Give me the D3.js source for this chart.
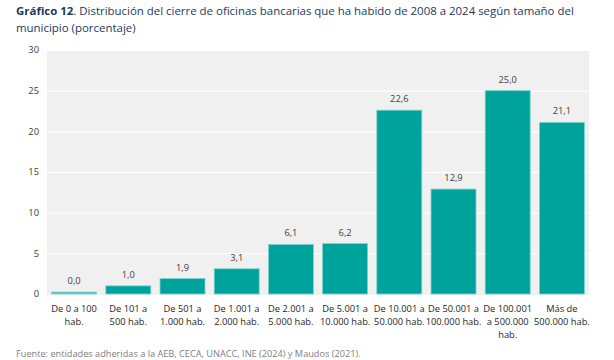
<!DOCTYPE html>
<html><head><meta charset="utf-8">
<script src="https://cdn.jsdelivr.net/npm/d3@7"></script>
<style>body{margin:0;background:#fff;} svg{display:block;}</style>
</head><body>
<svg id="c" width="614" height="360"></svg>
<script>
const categories = [
  ["De 0 a 100","hab."],
  ["De 101 a","500 hab."],
  ["De 501 a","1.000 hab."],
  ["De 1.001 a","2.000 hab."],
  ["De 2.001 a","5.000 hab."],
  ["De 5.001 a","10.000 hab."],
  ["De 10.001 a","50.000 hab."],
  ["De 50.001 a","100.000 hab."],
  ["De 100.001","a 500.000","hab."],
  ["Más de","500.000 hab."]
];
const values = [0.0, 1.0, 1.9, 3.1, 6.1, 6.2, 22.6, 12.9, 25.0, 21.1];
const yTicks = [0, 5, 10, 15, 20, 25, 30];

(function() {
const svg = d3.select("#c");
const font = "'Open Sans', sans-serif";
const mLeft = 47, mRight = 589, mTop = 50, mBottom = 294;

const x = d3.scaleBand().domain(d3.range(values.length)).range([mLeft, mRight]).paddingInner(0.17).paddingOuter(0.085);
const y = d3.scaleLinear().domain([0, 30]).range([mBottom, mTop]);

// Title
const t = svg.append("text").attr("x", 16).attr("y", 15).attr("font-family", font).attr("font-size", 11.45).attr("fill", "#1b3a5e");
t.append("tspan").attr("font-weight", "bold").text("Gráfico 12");
t.append("tspan").text(". Distribución del cierre de oficinas bancarias que ha habido de 2008 a 2024 según tamaño del");
svg.append("text").attr("x", 16).attr("y", 32).attr("font-family", font).attr("font-size", 11.45).attr("fill", "#1b3a5e").text("municipio (porcentaje)");

// plot background
svg.append("rect").attr("x", mLeft).attr("y", mTop).attr("width", mRight - mLeft).attr("height", mBottom - mTop + 1).attr("fill", "#f0f0f0");

// gridlines
svg.append("g").selectAll("line").data(yTicks.filter(d => d > 0)).join("line")
  .attr("x1", mLeft).attr("x2", mRight).attr("y1", d => y(d) + 0.5).attr("y2", d => y(d) + 0.5)
  .attr("stroke", "#ffffff").attr("stroke-width", 1);

// y axis
const yAxis = d3.axisLeft(y).tickValues(yTicks).tickSize(0).tickPadding(0);
const ga = svg.append("g").attr("transform", `translate(${mLeft - 8},0)`).call(yAxis);
ga.select(".domain").remove();
ga.selectAll("text").attr("font-family", font).attr("font-size", 9.3).attr("fill", "#404040");

// bars
const barH = d => Math.max(y(0) - y(d), 2);
svg.append("g").selectAll("rect").data(values).join("rect")
  .attr("x", (d, i) => x(i)).attr("width", x.bandwidth())
  .attr("y", d => y(0) - barH(d)).attr("height", d => barH(d))
  .attr("fill", (d, i) => i === 0 ? "#4cc3c0" : "#00a39c")
  .attr("stroke", "#7fd1cd").attr("stroke-width", 0.8);

// value labels
svg.append("g").selectAll("text").data(values).join("text")
  .attr("x", (d, i) => x(i) + x.bandwidth() / 2)
  .attr("y", d => y(0) - barH(d) - 8)
  .attr("text-anchor", "middle").attr("font-family", font).attr("font-size", 9.3).attr("fill", "#404040")
  .text(d => d3.format(".1f")(d).replace(".", ","));

// x labels
const xl = svg.append("g").selectAll("text").data(categories).join("text")
  .attr("text-anchor", "middle").attr("font-family", font).attr("font-size", 9.3).attr("fill", "#262626");
xl.each(function(lines, i) {
  const el = d3.select(this);
  lines.forEach((ln, j) => {
    el.append("tspan").attr("x", x(i) + x.bandwidth() / 2).attr("y", 312 + j * 13).text(ln);
  });
});

// source
svg.append("text").attr("x", 16).attr("y", 357).attr("font-family", font).attr("font-size", 9.2).attr("fill", "#808080")
  .text("Fuente: entidades adheridas a la AEB, CECA, UNACC, INE (2024) y Maudos (2021).");
})();
</script>
</body></html>
